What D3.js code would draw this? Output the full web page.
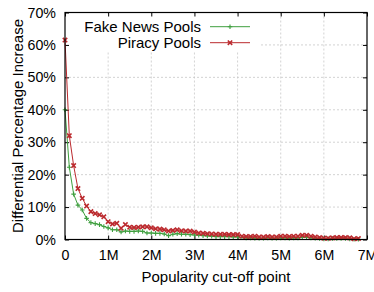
<!DOCTYPE html>
<html><head><meta charset="utf-8">
<script src="https://cdn.jsdelivr.net/npm/d3@7"></script>
<style>body{margin:0;background:#fff}svg{display:block}text{font-family:"Liberation Sans",Arial,sans-serif}</style>
</head><body><svg id="c" width="374" height="292"></svg>
<script>
const xTicks = [0,1,2,3,4,5,6,7];
const xTickLabels = ["0","1M","2M","3M","4M","5M","6M","7M"];
const yTicks = [0,10,20,30,40,50,60,70];
const yTickLabels = ["0%","10%","20%","30%","40%","50%","60%","70%"];
const cutoffs = d3.range(0, 69).map(i => i / 10); // millions, 0 .. 6.8
const fakeNews = [40,22.3,14,10.6,9.1,6.5,5.2,4.9,4.6,4.0,3.6,3.0,3.0,2.3,2.6,2.5,2.5,2.6,2.5,2.0,
  2.0,1.9,1.9,1.7,1.2,1.6,1.8,1.6,1.6,1.5,1.4,1.3,1.2,1.1,1.0,0.9,0.9,0.9,0.9,0.8,
  0.8,0.6,0.5,0.5,0.4,0.4,0.4,0.5,0.4,0.4,0.5,0.5,0.4,0.5,0.5,0.7,0.7,0.5,0.4,0.3,
  0.2,0.2,0.3,0.3,0.3,0.3,0.2,0.1,0.1];
const piracy = [61.5,32,22.8,15.7,12.7,10.3,8.6,8.0,7.6,7.0,5.5,4.8,5.0,3.5,4.6,3.8,3.7,3.8,3.9,3.9,
  3.6,3.3,3.2,3.0,2.6,2.8,3.0,2.7,2.6,2.6,2.3,2.0,1.9,1.8,1.7,1.6,1.6,1.6,1.5,1.5,
  1.5,1.0,0.9,0.9,1.0,0.8,0.8,0.9,0.8,0.8,1.0,1.0,0.9,1.0,1.0,1.3,1.3,1.0,0.8,0.6,
  0.4,0.4,0.5,0.6,0.6,0.6,0.5,0.2,0.3];
const seriesNames = ["Fake News Pools","Piracy Pools"];

const svg = d3.select("#c");
const L = 65, R = 367, T = 12.5, B = 239.5;
const x = d3.scaleLinear().domain([0,7]).range([L,R]);
const y = d3.scaleLinear().domain([0,70]).range([B,T]);
const GREEN = "#3f9f3f", RED = "#bb2a2e";

// grid
const g = svg.append("g");
g.selectAll(".gx").data(xTicks.slice(1,-1)).join("line")
  .attr("x1", d=>x(d)).attr("x2", d=>x(d)).attr("y1", T).attr("y2", B)
  .attr("stroke", "#c8c8c8").attr("stroke-width", 0.8).attr("stroke-dasharray", "2,2");
g.selectAll(".gy").data(yTicks.slice(1,-1)).join("line")
  .attr("y1", d=>y(d)).attr("y2", d=>y(d)).attr("x1", L).attr("x2", R)
  .attr("stroke", "#c8c8c8").attr("stroke-width", 0.8).attr("stroke-dasharray", "2,2");

// legend background box
svg.append("rect").attr("x", L+1).attr("y", T+1).attr("width", 258-L).attr("height", 50-T).attr("fill", "#fff");

// axes with ticks inside
const axB = d3.axisBottom(x).tickValues(xTicks).tickFormat((d,i)=>xTickLabels[i]).tickSize(-4).tickPadding(10);
const axL = d3.axisLeft(y).tickValues(yTicks).tickFormat((d,i)=>yTickLabels[i]).tickSize(-4).tickPadding(9);
const axT = d3.axisTop(x).tickValues(xTicks).tickFormat("").tickSize(-4);
const axR = d3.axisRight(y).tickValues(yTicks).tickFormat("").tickSize(-4);
function style(sel){ sel.select(".domain").remove(); sel.selectAll("line").attr("stroke","#000");
  sel.selectAll("text").attr("font-size", 14.2).attr("fill","#000").attr("font-family", '"Liberation Sans",Arial,sans-serif'); }
svg.append("g").attr("transform",`translate(0,${B})`).call(axB).call(style);
svg.append("g").attr("transform",`translate(${L},0)`).call(axL).call(style);
svg.append("g").attr("transform",`translate(0,${T})`).call(axT).call(style);
svg.append("g").attr("transform",`translate(${R},0)`).call(axR).call(style);

// series
const line = d3.line().x((d,i)=>x(cutoffs[i])).y(d=>y(d));
function plusPath(cx,cy){ return `M${cx-2.3},${cy}H${cx+2.3}M${cx},${cy-2.3}V${cy+2.3}`; }
function crossPath(cx,cy){ return `M${cx-2.2},${cy-2.2}L${cx+2.2},${cy+2.2}M${cx-2.2},${cy+2.2}L${cx+2.2},${cy-2.2}`; }

svg.append("path").datum(fakeNews).attr("d", line).attr("fill","none").attr("stroke",GREEN).attr("stroke-width",1);
svg.append("g").selectAll("path").data(fakeNews).join("path")
  .attr("d",(d,i)=>plusPath(x(cutoffs[i]),y(d))).attr("stroke",GREEN).attr("stroke-width",1.1);
svg.append("path").datum(piracy).attr("d", line).attr("fill","none").attr("stroke",RED).attr("stroke-width",1);
svg.append("g").selectAll("path").data(piracy).join("path")
  .attr("d",(d,i)=>crossPath(x(cutoffs[i]),y(d))).attr("stroke",RED).attr("stroke-width",1.6);

// frame
svg.append("rect").attr("x",L).attr("y",T).attr("width",R-L).attr("height",B-T).attr("fill","none").attr("stroke","#000").attr("stroke-width",1.2);

// legend
const legY = [26.7, 42.7];
seriesNames.forEach((name,k)=>{
  const color = k===0 ? GREEN : RED, yy = legY[k];
  svg.append("text").attr("x",201).attr("y",yy).attr("dy","0.35em").attr("text-anchor","end").attr("font-size",15).text(name);
  svg.append("line").attr("x1",210).attr("x2",250).attr("y1",yy).attr("y2",yy).attr("stroke",color).attr("stroke-width",1);
  svg.append("path").attr("d", k===0 ? plusPath(230,yy) : crossPath(230,yy)).attr("stroke",color).attr("stroke-width", k===0?1.1:1.6);
});

// axis titles
svg.append("text").attr("x", 216).attr("y", 277).attr("dy","0.35em").attr("text-anchor","middle").attr("font-size",15).text("Popularity cut-off point");
svg.append("text").attr("transform","translate(18,126) rotate(-90)").attr("dy","0.35em").attr("text-anchor","middle").attr("font-size",15).text("Differential Percentage Increase");
</script></body></html>
